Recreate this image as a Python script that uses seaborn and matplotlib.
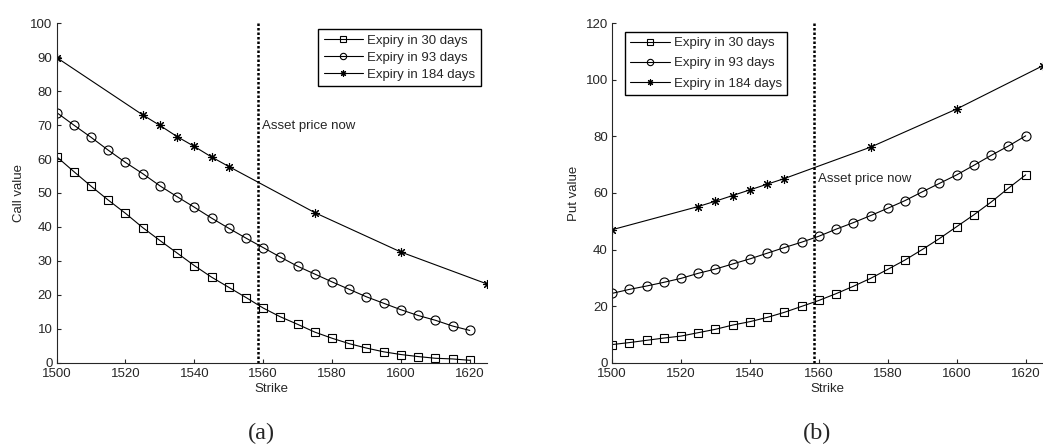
import numpy as np
import pandas as pd
import seaborn as sns
from matplotlib import pyplot as plt

# strikes
strikes = list(range(1500, 1621, 5))
strikes_184 = [1500, 1525, 1530, 1535, 1540, 1545, 1550, 1575, 1600, 1625]

# call values
call_30 = [60.7, 56.3, 52.0, 47.9, 44.0, 39.8, 36.0, 32.3, 28.6, 25.2, 22.2, 19.2, 16.1,
           13.5, 11.3, 9.0, 7.2, 5.6, 4.3, 3.2, 2.4, 1.8, 1.3, 1.1, 0.7]
call_93 = [73.7, 70.0, 66.4, 62.6, 59.0, 55.7, 52.1, 48.9, 45.8, 42.6, 39.6, 36.7, 33.9,
           31.1, 28.4, 26.1, 23.8, 21.6, 19.4, 17.5, 15.6, 13.9, 12.5, 10.8, 9.5]
call_184 = [89.9, 73.0, 69.9, 66.6, 63.7, 60.6, 57.8, 44.2, 32.6, 23.2]

# put values
put_30 = [6.4, 7.1, 7.9, 8.7, 9.4, 10.6, 11.8, 13.3, 14.5, 16.0, 17.8, 19.9, 22.0,
          24.4, 27.0, 29.8, 33.0, 36.3, 40.0, 43.9, 48.1, 52.3, 56.8, 61.7, 66.4]
put_93 = [24.5, 25.9, 27.1, 28.4, 29.8, 31.6, 33.1, 34.9, 36.7, 38.7, 40.7, 42.6, 44.7,
          47.2, 49.5, 52.0, 54.6, 57.3, 60.4, 63.4, 66.4, 69.8, 73.3, 76.6, 80.2]
put_184 = [47.0, 55.2, 57.1, 59.1, 61.1, 63.1, 65.1, 76.2, 89.7, 105.0]

asset_price = 1558.5
series_labels = ["Expiry in 30 days", "Expiry in 93 days", "Expiry in 184 days"]

sns.set_style("ticks")
plt.rcParams["font.family"] = ["Liberation Sans", "DejaVu Sans"]
plt.rcParams["xtick.direction"] = "in"
plt.rcParams["ytick.direction"] = "in"
plt.rcParams["xtick.major.size"] = 3
plt.rcParams["ytick.major.size"] = 3
plt.rcParams["axes.linewidth"] = 0.8


def draw_panel(ax, v30, v93, v184, ylim, yticks, ylabel, text_y,
               leg_loc, leg_anchor, leg_spacing):
    # (marker, size): MATLAB-like square, circle, 8-armed asterisk
    styles = [("s", 5.5), ("o", 6.5), ((8, 2, 0), 6.5)]
    data = [(strikes, v30), (strikes, v93), (strikes_184, v184)]
    for (xs, ys), (mk, ms), lab in zip(data, styles, series_labels):
        df = pd.DataFrame({"x": xs, "y": ys})
        sns.lineplot(data=df, x="x", y="y", ax=ax, color="black", linewidth=0.8,
                     marker=mk, markersize=ms, markerfacecolor="none",
                     markeredgecolor="black", markeredgewidth=0.8, label=lab)
    ax.axvline(asset_price, color="black", linestyle=(0, (1, 0.8)), linewidth=1.8)
    ax.text(asset_price + 1.2, text_y, "Asset price now", fontsize=9.5,
            ha="left", va="center")
    ax.set_xlim(1500, 1625)
    ax.set_ylim(*ylim)
    ax.set_xticks([1500, 1520, 1540, 1560, 1580, 1600, 1620])
    ax.set_yticks(yticks)
    ax.tick_params(labelsize=9.5, pad=3)
    ax.tick_params(axis="x", pad=4)
    ax.set_xlabel("Strike", fontsize=9.5, labelpad=2)
    ax.set_ylabel(ylabel, fontsize=9.5, labelpad=4)
    sns.despine(ax=ax)
    leg = ax.legend(loc=leg_loc, bbox_to_anchor=leg_anchor, borderaxespad=0,
                    fontsize=9.5, handlelength=3.0, fancybox=False,
                    framealpha=1, edgecolor="black", borderpad=0.4,
                    labelspacing=leg_spacing, handletextpad=0.3,
                    markerscale=0.7)
    leg.get_frame().set_linewidth(1.0)


fig = plt.figure(figsize=(10.43, 4.45), dpi=100)
ax1 = fig.add_axes([0.0543, 0.185, 0.4126, 0.7627])
ax2 = fig.add_axes([0.5868, 0.185, 0.4131, 0.7627])

draw_panel(ax1, call_30, call_93, call_184, (0, 100), range(0, 101, 10),
           "Call value", 69.8, "upper right", (0.985, 0.982), 0.35)
draw_panel(ax2, put_30, put_93, put_184, (0, 120), range(0, 121, 20),
           "Put value", 65.1, "upper left", (0.030, 0.975), 0.6)

caption_font = ["Liberation Serif", "DejaVu Serif"]
fig.text(0.251, 0.027, "(a)", ha="center", va="center", fontsize=17.5,
         family=caption_font)
fig.text(0.783, 0.027, "(b)", ha="center", va="center", fontsize=17.5,
         family=caption_font)

plt.savefig("out.png", dpi=100)
